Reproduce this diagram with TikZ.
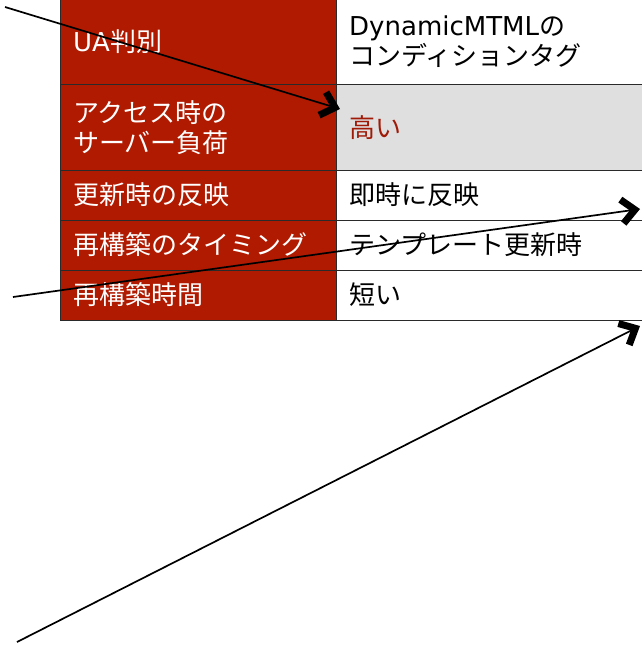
\documentclass[tikz,border=0pt]{standalone}
\usepackage{fontspec}
\setmainfont{Noto Sans CJK JP}
\newfontfamily\lat{DejaVu Sans}
\usetikzlibrary{arrows.meta}
\definecolor{hdr}{HTML}{B01A00}
\definecolor{hl}{HTML}{DFDFDF}
\definecolor{hltext}{HTML}{A01A08}
\definecolor{rule}{HTML}{2A2A2A}
\tikzset{
  hdrcell/.style={fill=hdr, draw=rule, line width=1pt},
  valcell/.style={fill=white, draw=rule, line width=1pt},
  hlcell/.style={fill=hl, draw=rule, line width=1pt},
  hdrtext/.style={anchor=west, align=left, text=white, inner sep=0pt, font=\fontsize{26}{30}\selectfont},
  valtext/.style={anchor=west, align=left, text=black, inner sep=0pt, font=\fontsize{26}{30}\selectfont},
  pointer/.style={draw=black, line width=1.7pt, -{Straight Barb[length=13pt,width=24pt,line width=7pt]}}
}
\begin{document}
\begin{tikzpicture}[x=1pt,y=-1pt]
\useasboundingbox (0,0) rectangle (642,649);
\begin{scope}
\clip (0,0) rectangle (642,649);
% header column
\path[hdrcell] (60,-5) rectangle (336,84);
\path[hdrcell] (60,84) rectangle (336,170);
\path[hdrcell] (60,170) rectangle (336,220);
\path[hdrcell] (60,220) rectangle (336,270);
\path[hdrcell] (60,270) rectangle (336,320);
% value column
\path[valcell] (336,-5) rectangle (660,84);
\path[hlcell] (336,84) rectangle (660,170);
\path[valcell] (336,170) rectangle (660,220);
\path[valcell] (336,220) rectangle (660,270);
\path[valcell] (336,270) rectangle (660,320);
\end{scope}
% texts
\node[hdrtext] (h1) at (73,42) {{\lat UA}判別};
\node[hdrtext] (h2) at (73,128) {アクセス時の\\サーバー負荷};
\node[hdrtext] (h3) at (73,195) {更新時の反映};
\node[hdrtext] (h4) at (73,245) {再構築のタイミング};
\node[hdrtext] (h5) at (73,295) {再構築時間};
\node[valtext] (v1) at (349,42) {{\lat DynamicMTML}の\\コンディションタグ};
\node[valtext, text=hltext] (v2) at (349,128) {高い};
\node[valtext] (v3) at (349,195) {即時に反映};
\node[valtext] (v4) at (349,245) {テンプレート更新時};
\node[valtext] (v5) at (349,295) {短い};
% pointers
\coordinate (a1s) at (5,7);
\coordinate (a1e) at (340,109);
\coordinate (a2s) at (13,297);
\coordinate (a2e) at (640,209);
\coordinate (a3s) at (17,642);
\coordinate (a3e) at (640,326);
\draw[pointer] (a1s) -- (a1e);
\draw[pointer] (a2s) -- (a2e);
\draw[pointer] (a3s) -- (a3e);
\end{tikzpicture}
\end{document}
